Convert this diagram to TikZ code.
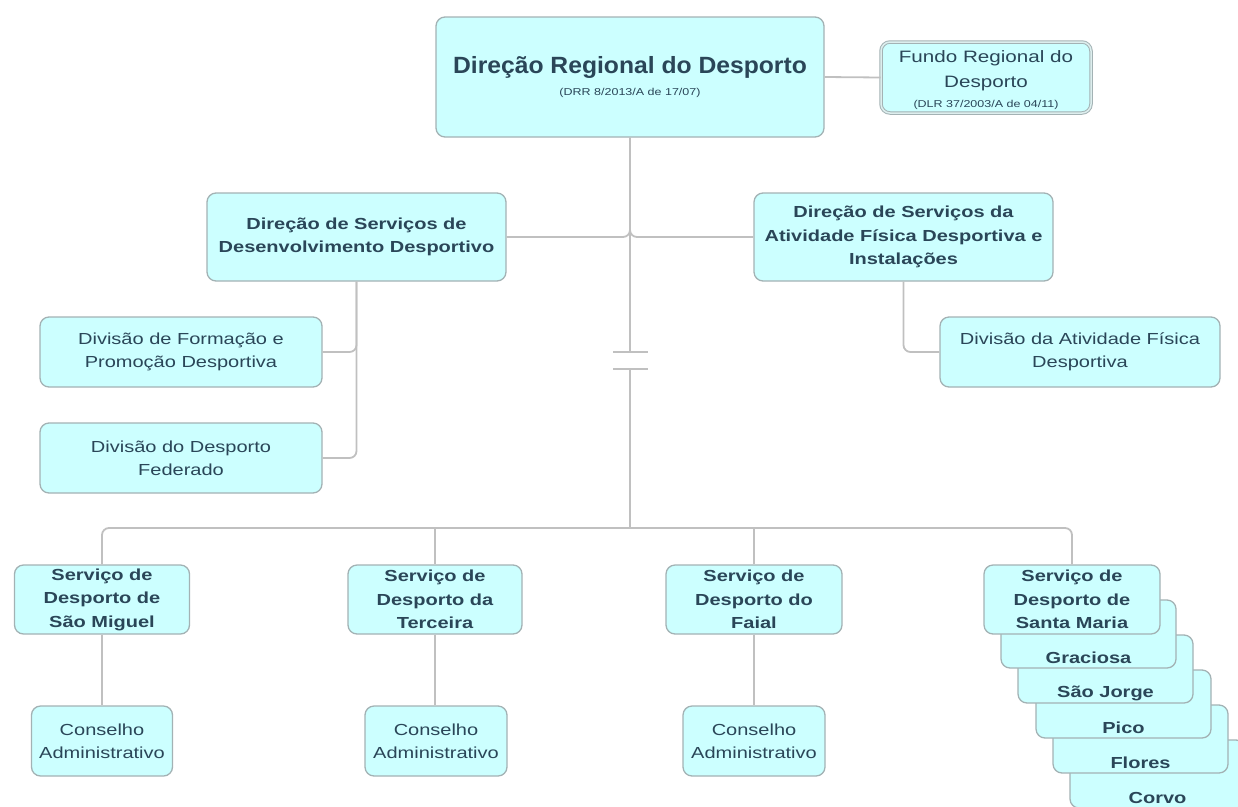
\documentclass[tikz,border=0pt]{standalone}
\usepackage{fontspec}
\setmainfont{Liberation Sans}
\newfontfamily\rgf[FakeStretch=1.25]{Liberation Sans}
\newfontfamily\ttlf[FakeStretch=1.05]{Liberation Sans}
\definecolor{fillc}{HTML}{CCFFFF}
\definecolor{bordc}{HTML}{A3B2B4}
\definecolor{textc}{HTML}{2A4658}
\definecolor{linec}{HTML}{C0C0C0}
\definecolor{dblc}{HTML}{DDEEEE}
\tikzset{
  box/.style={draw=bordc, fill=fillc, line width=1.3pt, rounded corners=9pt, inner sep=0pt, align=center, text=textc},
  bbox/.style={box, font={\rgf\bfseries\fontsize{16}{23.5}\selectfont}},
  rbox/.style={box, font={\rgf\fontsize{16}{23}\selectfont}},
  lbl/.style={text=textc, inner sep=0pt, font={\rgf\bfseries\fontsize{16}{20}\selectfont}},
  conn/.style={draw=linec, line width=1.8pt, rounded corners=7pt}
}
\begin{document}
\begin{tikzpicture}[x=1pt,y=-1pt]
\useasboundingbox (0,0) rectangle (1238,806);
\clip (0,0) rectangle (1238,806);

% top level
\node[box, minimum width=388pt, minimum height=120pt, font={\rgf\fontsize{10}{22}\selectfont}] (top) at (630,77)
  {{\ttlf\bfseries\fontsize{23.5}{26}\selectfont Direção Regional do Desporto}\\
   (DRR 8/2013/A de 17/07)};
\node[box, draw=bordc, line width=1pt, double=dblc, double distance=1.5pt, minimum width=210pt, minimum height=71pt,
      font={\rgf\fontsize{16.5}{25}\selectfont}] (fundo) at (986,77.5)
  {\rule{0pt}{17pt}Fundo Regional do\\Desporto\\[-5pt]{\fontsize{10}{12}\selectfont (DLR 37/2003/A de 04/11)}};

% second level
\node[bbox, minimum width=299pt, minimum height=88pt] (ds1) at (356.5,237)
  {Direção de Serviços de\\Desenvolvimento Desportivo};
\node[bbox, minimum width=299pt, minimum height=88pt] (ds2) at (903.5,237)
  {Direção de Serviços da\\Atividade Física Desportiva e\\Instalações};

% divisions
\node[rbox, minimum width=282pt, minimum height=70pt] (div1) at (181,352)
  {Divisão de Formação e\\Promoção Desportiva};
\node[rbox, minimum width=282pt, minimum height=70pt] (div2) at (181,458)
  {Divisão do Desporto\\Federado};
\node[rbox, minimum width=280pt, minimum height=70pt] (div3) at (1080,352)
  {Divisão da Atividade Física\\Desportiva};

% services
\node[bbox, minimum width=175pt, minimum height=69pt] (sm) at (102,599.5)
  {Serviço de\\Desporto de\\São Miguel};
\node[bbox, minimum width=174pt, minimum height=69pt] (ter) at (435,599.5)
  {Serviço de\\Desporto da\\Terceira};
\node[bbox, minimum width=176pt, minimum height=69pt] (fai) at (754,599.5)
  {Serviço de\\Desporto do\\Faial};

% stacked island services
\node[box, minimum width=175pt, minimum height=68pt] (cor) at (1157.5,774) {};
\node[lbl] (corT) at (1157.5,798) {Corvo};
\node[box, minimum width=175pt, minimum height=68pt] (flo) at (1140.5,739) {};
\node[lbl] (floT) at (1140.5,763) {Flores};
\node[box, minimum width=175pt, minimum height=68pt] (pic) at (1123.5,704) {};
\node[lbl] (picT) at (1123.5,728) {Pico};
\node[box, minimum width=175pt, minimum height=68pt] (sjo) at (1105.5,669) {};
\node[lbl] (sjoT) at (1105.5,693) {São Jorge};
\node[box, minimum width=175pt, minimum height=68pt] (gra) at (1088.5,634) {};
\node[lbl] (graT) at (1088.5,658) {Graciosa};
\node[bbox, minimum width=176pt, minimum height=69pt] (sma) at (1072,599.5)
  {Serviço de\\Desporto de\\Santa Maria};

% councils
\node[rbox, minimum width=141pt, minimum height=70pt] (cons1) at (102,741)
  {Conselho\\Administrativo};
\node[rbox, minimum width=142pt, minimum height=70pt] (cons2) at (436,741)
  {Conselho\\Administrativo};
\node[rbox, minimum width=142pt, minimum height=70pt] (cons3) at (754,741)
  {Conselho\\Administrativo};

% connectors
\coordinate (b1) at (630,352);
\coordinate (b2) at (630,369);
\coordinate (bus) at (630,528);
\draw[conn] (top.east) -- (fundo.west);
\draw[conn] (ds1.east) -| (top.south);
\draw[conn] (ds2.west) -| (top.south);
\draw[conn] (top.south) -- (b1);
\draw[conn] ([xshift=-17pt]b1) -- ([xshift=18pt]b1);
\draw[conn] ([xshift=-17pt]b2) -- ([xshift=18pt]b2);
\draw[conn] (b2) -- (bus);
\draw[conn] (bus) -| (sm.north);
\draw[conn] (bus) -| (sma.north);
\draw[conn] (ter.north |- bus) -- (ter.north);
\draw[conn] (fai.north |- bus) -- (fai.north);
\draw[conn] (ds1.south) |- (div1.east);
\draw[conn] (ds1.south) |- (div2.east);
\draw[conn] (ds2.south) |- (div3.west);
\draw[conn] (sm.south) -- (sm.south |- cons1.north);
\draw[conn] (ter.south) -- (ter.south |- cons2.north);
\draw[conn] (fai.south) -- (fai.south |- cons3.north);
\end{tikzpicture}
\end{document}
